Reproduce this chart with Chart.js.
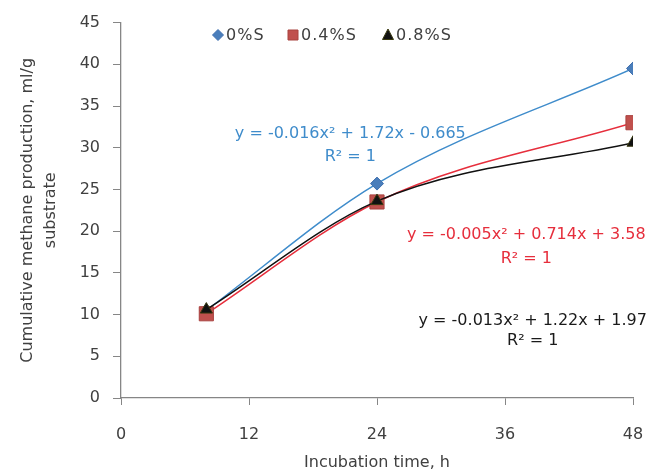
<!DOCTYPE html>
<html>
<head>
<meta charset="utf-8">
<script src="https://cdn.jsdelivr.net/npm/chart.js@4/dist/chart.umd.min.js"></script>
<style>
	html, body { margin: 0; padding: 0; background: #fff; }
	#wrap { width: 650px; height: 473px; }
</style>
</head>
<body>
<div id="wrap"><canvas id="chart"></canvas></div>
<script>
// incubation times (h) and cumulative methane production (ml/g substrate)
const hours = [8, 24, 48]
const sulfur0 = [10.5, 25.7, 39.5]
const sulfur04 = [10.1, 23.5, 33.0]
const sulfur08 = [10.6, 23.6, 30.6]
const seriesNames = ["0%S", "0.4%S", "0.8%S"]
const xTicks = [0, 12, 24, 36, 48]

const equations = [
	{ text: "y = -0.016x\u00b2 + 1.72x - 0.665", r2: "R\u00b2 = 1", color: "#3f8ccb", x: 21.5, y: 31.7, r2y: 28.9 },
	{ text: "y = -0.005x\u00b2 + 0.714x + 3.58", r2: "R\u00b2 = 1", color: "#e62e3c", x: 38.0, y: 19.5, r2y: 16.7 },
	{ text: "y = -0.013x\u00b2 + 1.22x + 1.97", r2: "R\u00b2 = 1", color: "#1a1a1a", x: 38.6, y: 9.3, r2y: 6.8 },
]

const FONT = "'DejaVu Sans', 'Open Sans', sans-serif"

function points(values) {
	return hours.map((h, i) => ({ x: h, y: values[i] }))
}

function series(label, values, style) {
	return Object.assign({
		label: label,
		data: points(values),
		showLine: true,
		cubicInterpolationMode: 'monotone',
		borderWidth: 1.5,
		pointBorderWidth: 1,
	}, style)
}

const overlay = {
	id: 'overlay',
	afterDatasetsDraw(chart) {
		const ctx = chart.ctx
		const xs = chart.scales.x
		const ys = chart.scales.y
		ctx.save()
		// trendline equations
		ctx.font = "16px " + FONT
		ctx.textAlign = 'center'
		ctx.textBaseline = 'middle'
		equations.forEach(eq => {
			ctx.fillStyle = eq.color
			const px = xs.getPixelForValue(eq.x)
			ctx.fillText(eq.text, px, ys.getPixelForValue(eq.y))
			ctx.fillText(eq.r2, px, ys.getPixelForValue(eq.r2y))
		})
		// legend inside plot area
		const slots = [218, 293, 388]
		const ly = 35
		ctx.textAlign = 'left'
		ctx.font = "16px " + FONT
		ctx.letterSpacing = '1px'
		chart.data.datasets.forEach((ds, i) => {
			const cx = slots[i]
			ctx.fillStyle = ds.pointBackgroundColor
			ctx.strokeStyle = ds.pointBorderColor
			ctx.lineWidth = 1
			ctx.beginPath()
			if (ds.pointStyle === 'rectRot') {
				ctx.moveTo(cx, ly - 5.5); ctx.lineTo(cx + 5.5, ly); ctx.lineTo(cx, ly + 5.5); ctx.lineTo(cx - 5.5, ly)
			} else if (ds.pointStyle === 'rect') {
				ctx.rect(cx - 5, ly - 5, 10, 10)
			} else {
				ctx.moveTo(cx, ly - 6); ctx.lineTo(cx + 5.5, ly + 4.5); ctx.lineTo(cx - 5.5, ly + 4.5)
			}
			ctx.closePath()
			ctx.fill()
			ctx.stroke()
			ctx.fillStyle = '#404040'
			ctx.fillText(ds.label, cx + 8, ly + 1)
		})
		ctx.restore()
	}
}

new Chart(document.getElementById("chart"), {
	type: 'scatter',
	data: {
		datasets: [
			series(seriesNames[0], sulfur0, {
				borderColor: '#3f8ccb', pointStyle: 'rectRot', pointRadius: 6.5,
				pointBackgroundColor: '#4a7ebb', pointBorderColor: '#3f6fae', order: 3,
			}),
			series(seriesNames[1], sulfur04, {
				borderColor: '#e62e3c', pointStyle: 'rect', pointRadius: 10,
				pointBackgroundColor: '#c0504d', pointBorderColor: '#a8423f', order: 2,
			}),
			series(seriesNames[2], sulfur08, {
				borderColor: '#111111', pointStyle: 'triangle', pointRadius: 7,
				pointBackgroundColor: '#111111', pointBorderColor: '#3a3a10', order: 1,
			}),
		],
	},
	options: {
		animation: false,
		responsive: true,
		maintainAspectRatio: false,
		layout: { padding: { left: 10, right: 17, top: 19, bottom: 1 } },
		plugins: {
			legend: { display: false },
			tooltip: { enabled: false },
		},
		scales: {
			x: {
				type: 'linear',
				min: 0,
				max: 48,
				afterBuildTicks: (s) => { s.ticks = xTicks.map(v => ({ value: v })) },
				afterFit: (s) => { s.height = 74; s.paddingLeft = 0; s.paddingRight = 0 },
				grid: { drawOnChartArea: false, tickLength: 7, color: '#868686' },
				border: { color: '#868686', width: 1.3 },
				ticks: { padding: 20, color: '#404040', font: { family: FONT, size: 16 } },
				title: {
					display: true,
					text: 'Incubation time, h',
					color: '#404040',
					padding: { top: 0, bottom: 0 },
					font: { family: FONT, size: 16 },
				},
			},
			y: {
				min: 0,
				max: 45,
				ticks: { stepSize: 5, padding: 13, color: '#404040', font: { family: FONT, size: 16 } },
				afterFit: (s) => { s.width = 111 },
				grid: { drawOnChartArea: false, tickLength: 8, color: '#868686' },
				border: { color: '#868686', width: 1.3 },
				title: {
					display: true,
					text: ['Cumulative methane production, ml/g', 'substrate'],
					color: '#404040',
					padding: { top: 7, bottom: 0 },
					font: { family: FONT, size: 16, lineHeight: 1.4 },
				},
			},
		},
	},
	plugins: [overlay],
})
</script>
</body>
</html>
